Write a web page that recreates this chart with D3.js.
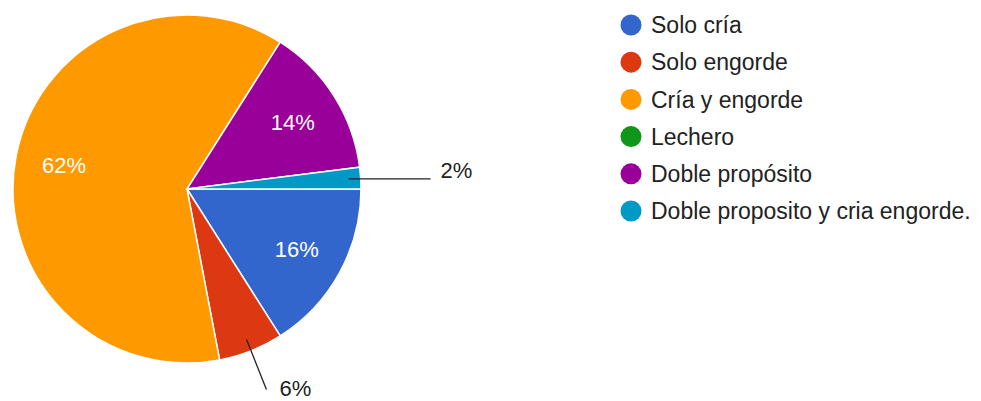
<!DOCTYPE html>
<html lang="es">
<head>
<meta charset="UTF-8">
<title>pie</title>
<script src="https://cdn.jsdelivr.net/npm/d3@7"></script>
<style>
    body{ margin:0; background:#fff; }
    text{ font-family: "Liberation Sans", Arial, sans-serif; }
</style>
</head>
<body>
<svg id="main" width="981" height="401"></svg>
<script>
    // data
    let categories = ["Solo cría", "Solo engorde", "Cría y engorde", "Lechero", "Doble propósito", "Doble proposito y cria engorde."];
    let counts = [8, 3, 31, 0, 7, 1];
    let colors = ["#3366cc", "#dc3912", "#ff9900", "#109618", "#990099", "#0099c6"];

    let svg = d3.select("#main");
    let cx = 187, cy = 189, r = 174;
    let total = d3.sum(counts);

    let data = categories.map((c, i) => ({name: c, value: counts[i], color: colors[i]}));

    let pie = d3.pie()
        .value(d => d.value)
        .sort(null)
        .startAngle(Math.PI / 2)
        .endAngle(Math.PI / 2 + 2 * Math.PI);

    let arcs = pie(data).filter(d => d.data.value > 0);

    let arc = d3.arc().innerRadius(0).outerRadius(r);
    let labelArc = d3.arc().innerRadius(r * 0.72).outerRadius(r * 0.72);
    let edgeArc = d3.arc().innerRadius(r * 0.93).outerRadius(r * 0.93);

    let g = svg.append("g").attr("transform", `translate(${cx},${cy})`);

    g.selectAll("path")
        .data(arcs)
        .enter().append("path")
        .attr("d", arc)
        .attr("fill", d => d.data.color)
        .attr("stroke", "#fff")
        .attr("stroke-width", 1.5);

    let pct = d => Math.round(d.data.value / total * 100) + "%";
    let big = arcs.filter(d => d.data.value / total >= 0.1);
    let small = arcs.filter(d => d.data.value / total < 0.1);

    g.selectAll("text.inside")
        .data(big)
        .enter().append("text")
        .attr("class", "inside")
        .attr("x", d => labelArc.centroid(d)[0])
        .attr("y", d => labelArc.centroid(d)[1])
        .attr("dy", "0.36em")
        .attr("text-anchor", "middle")
        .attr("fill", "#fff")
        .style("font-size", "22px")
        .text(pct);

    // outside labels for small slices
    small.forEach(d => {
        let p0 = edgeArc.centroid(d);
        let mid = (d.startAngle + d.endAngle) / 2;
        let p1, tx, ty;
        if (Math.abs(Math.sin(mid)) > 0.9) {
            // near the right side: horizontal leader
            p1 = [r * 1.4, p0[1]];
            tx = p1[0] + 10; ty = p1[1] - 1;
        } else {
            p1 = [Math.sin(mid) * r * 1.24, -Math.cos(mid) * r * 1.24];
            tx = p1[0] + 13; ty = p1[1] + 6;
        }
        g.append("line")
            .attr("x1", p0[0]).attr("y1", p0[1])
            .attr("x2", p1[0]).attr("y2", p1[1])
            .attr("stroke", "#222").attr("stroke-width", 1.3);
        g.append("text")
            .attr("x", tx).attr("y", ty)
            .attr("fill", "#222")
            .style("font-size", "22px")
            .text(pct(d));
    });

    // legend
    let legend = svg.append("g").attr("transform", "translate(631,25)");
    let ly = d3.scaleBand().domain(categories).range([0, 37.2 * categories.length]).paddingInner(0);
    let item = legend.selectAll("g")
        .data(data)
        .enter().append("g")
        .attr("transform", d => `translate(0,${ly(d.name)})`);
    item.append("circle").attr("r", 10.5).attr("fill", d => d.color);
    item.append("text")
        .attr("x", 20)
        .attr("dy", "0.36em")
        .attr("fill", "#222")
        .style("font-size", "23px")
        .text(d => d.name);
</script>
</body>
</html>
